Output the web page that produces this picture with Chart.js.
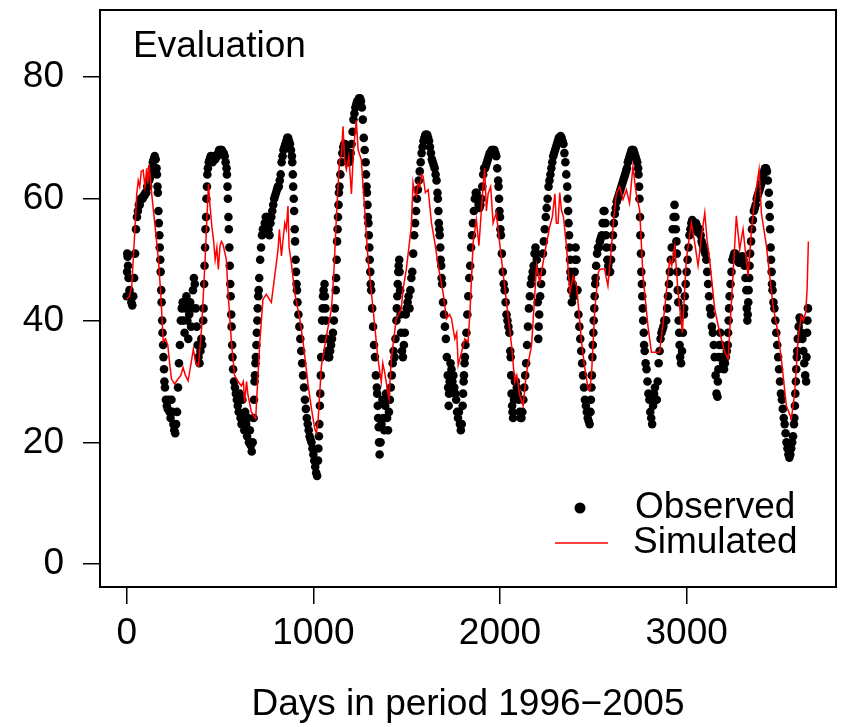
<!DOCTYPE html>
<html>
<head>
<meta charset="utf-8">
<script src="https://cdn.jsdelivr.net/npm/chart.js@4/dist/chart.umd.min.js"></script>
<style>
  html, body { margin: 0; padding: 0; background: #fff; }
  #wrap { width: 841px; height: 727px; }
</style>
</head>
<body>
<div id="wrap"><canvas id="c" width="841" height="727"></canvas></div>
<script>
const obsStep = 5;
const obsRows = [
  [44,50.5,47,45,44,43,42.5,44,47,51,55,57,58,59,59,60,60,60,60.5,60.5],
  [61,61,62,62,63,63.5,64,65,66,66.5,67,66.5,65,62,58,54,50,45,40,36],
  [32,29,27,26,25.5,27,25,24,27,25,23,22,21.5,23,25,29,33,36,40,42],
  [43,40,38,42,44,40,37,41,43,39,42,45,47,46,42,39,36,34,33,35],
  [37,36,40,46,52,57,62,65,66,66.5,67,66.5,66,66.5,67,66.5,67,67,67.5,68],
  [68,68,68,67.5,67.5,67,66,65,62,57,52,46,41,36,32,30,29,28,27,26],
  [25,28,24,23,27,24,22,25,23,21,24,20,22,19.5,18.5,20,24,30,33,36],
  [40,44,47,50,52,54,55,55,56,57,57,57,55,54,56,57,58,59,60,60.5],
  [61,61.5,62,62,63,64,66,67,68,68.5,69,69.5,70,70,69.5,69,68,67,64,60],
  [55,50,46,43,41,39,37,35,33,31,29,27,25.5,24,23,22,21,20.5,20,19],
  [18,17,16,15,14.5,17,21,26,31,37,42,45,46,42,37,35,34,34,35,36],
  [37,38,40,42,45,50,55,59,62,64,66,67.5,68.5,69,69,68.5,67.5,66.5,66,66.5],
  [67.5,69,71,73,74,75,75.5,76,76,76.5,76.5,76,75,73,70,68,66,62,59,56],
  [52,48,45,42,39,36,34,31,29,26,22.5,18,20,23,27,24,22,26,28,24],
  [22,25,27,29,31,33,35,34,37,40,44,48,50,45,38,35,34,36,38,41],
  [42,43,44,42,45,47,48,51,54,56,58,60,61.5,63,64.5,66,67.5,68.5,69.5,70],
  [70.5,70.5,70.5,70,69.5,68.5,67.5,66.5,66,65.5,65,64,63,61,58,55,52,49,46,43],
  [41,39,37,34,31,26,30,33,32,30,31,29,28,27,25,24,25,23,22,23],
  [26,30,33,36,38,41,44,47,49,52,54,56,58,60,61,61,60,59,58.5,59],
  [60,62,64,65,65,65.5,66,66.5,67,67.5,67.5,68,68,68,68,67.5,67,65,63,60],
  [57,54,51,48,46,45,43,41,40,39,38,35,31,26,24,27,30,30,29,28],
  [27,25,24,24,25,27,29,31,33,36,39,42,44,46,47,48,49,51,52,51],
  [48,37,41,44,46,48,51,53,55,57,58.5,60,62,63,64,65,66,67,67.5,68],
  [68.5,69,69.5,70,70,70.3,70,69.5,69,67.5,66,64,62,58,54,50,47,43,46,44],
  [48,52,50,45,41,39,37,35,33,31,29,27,26,25,24,23.5,23,25,29,34],
  [38,42,46,49,51,52,52,53,53.5,54,56,58,58,56,52,50,49,48,48,50],
  [52,54,56,57.5,58.5,59.5,60,60.5,61,61.5,62,62.5,63,63.5,64,64.5,65,66,66.5,67],
  [67.5,68,68,68,67.5,67,66.5,66,65,62,57,51,46,42,38,35,33,32,30,28],
  [27,25,24,23,26,28,29,27,27,30,33,35,37,38,38.5,39,40,40,40,42],
  [44,46,48,50,52,55,57,59,57,53,48,43,38,34,33,35,38,41,44,46],
  [48,50,52,54,55,56,56.5,56,55.5,55,56,55.5,54.5,55,55,54,53,52.5,52,51.5],
  [51,50,48,46,44,42,41,39,38,36,34,31,28,27.5,32,36,38,36,34,33],
  [32,33,34,35,36,40,44,46,48,50,50.5,51,51,50.5,50,50,49.5,50,50,50.5],
  [50.5,50,49,47,45,40,43,47,51,53,55,56.5,58,58.5,59,60,60.5,61,61.5,62],
  [62.5,63.5,64,64.5,65,65,64.5,63,61,57,52,48,45,43,42,40,38,36,34,32],
  [30,28,27,25.5,24,23,21.5,20,19,18,17.5,18,19,20,21,23,26,30,34,37],
  [39,40.5,40,38,37,35,33,31,30,38,42]
];

// extra observed days read on the steep rises and falls: [day, value]
const obsSteep = [
  [2,48],[3,51],[7,49],
  [162,64],[167,61],[172,56],[177,52],[182,48],[187,43],[192,38],[197,34],[202,30],
  [412,42],[417,49],[422,55],[427,60],[432,64],
  [537,64],[542,60],[547,55],[552,49],[557,44],[562,39],[567,34],
  [682,27],[687,31],[692,34],[697,38],[702,42],[707,45],
  [887,66],[892,62],[897,58],[902,53],[907,48],[912,45],
  [1027,19],[1032,23],[1037,28],[1042,34],[1047,40],[1052,44],[1062,44],[1067,40],
  [1122,47],[1127,53],[1132,57],[1137,61],
  [1282,64],[1287,61],[1292,57],[1297,54],[1302,50],[1307,46],
  [1342,28],[1347,24],[1352,20],
  [1447,42],[1452,46],[1457,49],[1462,48],[1467,41],
  [1667,60],[1672,56],[1677,54],[1682,50],[1687,47],
  [1722,29],[1727,28],[1802,28],[1807,31],[1812,34],
  [1992,62],[1997,58],[2002,55],[2057,34],[2062,28],[2067,25],
  [2197,50],[2202,43],[2207,39],
  [2362,60],[2367,56],[2372,52],[2377,48],[2382,45],[2402,50],
  [2487,27],[2492,31],[2497,36],[2502,40],[2507,44],[2512,47],[2567,54],
  [2742,64],[2747,60],[2752,54],[2757,48],[2762,44],[2767,40],[2772,36],
  [2942,55],[2947,51],[2952,45],[2957,40],[2962,36],[2987,42],
  [3167,30],[3172,34],[3222,38],[3227,42],
  [3322,42],[3327,41],[3332,45],[3337,49],
  [3442,59],[3447,55],[3452,50],[3457,46],
  [3577,24],[3582,28],[3587,32],[3592,35],[3642,34],[3647,40]
];

// Simulated values: [day, value]
const simulated = [
  [0,43.5],[15,44],[27,45.7],[35,50],[45,55.5],[54,60.8],[62,63],[70,62],[78,64.5],[88,64.7],[98,62],[107,65],[114,62.5],[120,65.6],[134,60.8],[152,55.5],[170,50],[182,44.6],[196,36.5],[208,37],[220,36],[230,33],[240,30.4],[257,29.6],[275,30.4],[290,31],[302,32.3],[315,31],[329,30.1],[345,33],[357,35.3],[370,33],[384,32.5],[402,39],
  [420,50],[430,57],[438,62.4],[446,59],[456,55.5],[466,53],[474,50],[483,52],[491,48.4],[500,52.3],[508,53],[516,52.5],[534,50],[543,44.6],[561,36.5],[578,31],[596,30],[614,29.3],[625,30],[632,26.6],[642,30],[650,27.7],[668,25],[691,23.9],[713,36.5],[730,43.5],[748,44.3],[775,43],[793,47.3],[811,51.7],[818,55],[829,50.6],[840,54],[847,56],[855,55],[864,58.8],[870,52],[882,49.5],[900,44.6],[927,40.3],[945,36.5],[972,29.4],[990,25.5],[1007,22.3],[1016,21.5],[1025,23.4],
  [1043,32.5],[1070,37.5],[1097,41.9],[1110,48],[1123,56.6],[1132,62],[1141,66.4],[1150,67],[1159,71.9],[1168,66],[1177,64.8],[1190,67],[1204,60.8],[1215,68],[1230,72.9],[1240,68],[1257,66.4],[1275,58.2],[1293,50],[1320,41.9],[1346,33.7],[1364,29.9],[1372,33],[1382,31.5],[1395,29],[1405,27.2],[1418,33.7],[1444,40.3],[1471,41.9],[1480,45],[1498,48.4],[1525,55.5],[1534,62.6],[1543,61],[1552,60.4],[1561,62.5],[1570,62],[1580,64],[1588,63.7],[1600,61],[1615,61.5],[1633,56],[1651,52.8],[1669,49],[1695,44.6],[1713,40.3],[1730,41],[1740,40.3],[1758,37],[1768,38],[1776,32.7],[1794,34.8],[1811,37],[1829,36.5],
  [1840,42],[1856,52.8],[1873,56.6],[1887,52.3],[1900,58],[1909,62],[1918,65],[1927,58],[1936,60.8],[1950,62],[1963,56],[1980,57.7],[2008,50],[2035,43],[2062,35.9],[2079,29.9],[2090,31],[2106,27.7],[2124,26],[2140,31],[2151,33.1],[2169,35.9],[2196,49],[2213,46.3],[2240,51.2],[2267,55.5],[2280,57],[2294,60.8],[2302,56],[2311,56],[2320,61],[2329,58.2],[2340,57],[2356,52.3],[2374,44.6],[2392,47.3],[2410,45.7],[2437,36.5],[2454,32.2],[2472,28.9],[2480,28.5],[2490,31],[2508,41.9],[2526,47.8],
  [2533,48.4],[2560,48.5],[2578,45.7],[2596,51.7],[2610,57],[2623,60.8],[2641,62],[2659,59.9],[2677,61.5],[2694,59.3],[2712,65.3],[2730,60.8],[2748,58.2],[2766,47.3],[2793,39],[2811,34.8],[2837,34.8],[2855,34.8],[2882,41.9],[2909,50],[2920,49],[2936,52.3],[2954,44.6],[2977,38],[2998,50],[3025,56],[3043,52.8],[3061,49],[3080,54],[3097,57.7],[3110,53],[3123,50],[3150,41.9],[3177,38],[3204,34.8],[3222,33.7],[3248,47.3],[3266,57.2],[3284,51.7],[3302,55],[3329,47.3],[3346,54.4],[3364,59.9],[3388,64.8],[3400,57.7],[3427,52.3],[3445,47.3],[3463,42.4],[3489,38],[3507,33.7],[3534,26],[3561,23.9],[3579,28.2],[3597,37],[3614,40.8],[3625,40],[3638,41.4],[3645,45],[3652,53]
];

const xTicks = [0, 1000, 2000, 3000];
const yTicks = [0, 20, 40, 60, 80];
const seriesNames = ['Observed', 'Simulated'];
const panelLabel = 'Evaluation';
const xTitle = 'Days in period 1996\u22122005';

const FONT = '"Liberation Sans", Arial, Helvetica, sans-serif';

const obsPoints = [];
obsRows.forEach((row, r) => row.forEach((v, j) => obsPoints.push({ x: r * 100 + j * obsStep, y: v })));
obsSteep.forEach(p => obsPoints.push({ x: p[0], y: p[1] }));

// box round the plot, panel label and legend inside the plot
const boxPlugin = {
  id: 'boxAndLegend',
  afterDraw(chart) {
    const { ctx, chartArea: a } = chart;
    ctx.save();
    ctx.strokeStyle = '#000';
    ctx.lineWidth = 2;
    ctx.strokeRect(a.left, a.top, a.right - a.left, a.bottom - a.top);

    ctx.fillStyle = '#000';
    ctx.font = '37px ' + FONT;
    ctx.textBaseline = 'middle';
    ctx.textAlign = 'left';
    ctx.fillText(panelLabel, a.left + 33, a.top + 37);

    // legend
    ctx.beginPath();
    ctx.arc(a.right - 256, a.bottom - 79, 5.5, 0, Math.PI * 2);
    ctx.fill();
    ctx.fillText(seriesNames[0], a.right - 201, a.bottom - 79);
    ctx.strokeStyle = '#ff0000';
    ctx.lineWidth = 1.5;
    ctx.beginPath();
    ctx.moveTo(a.right - 281, a.bottom - 44);
    ctx.lineTo(a.right - 228, a.bottom - 44);
    ctx.stroke();
    ctx.fillText(seriesNames[1], a.right - 203, a.bottom - 44);
    ctx.restore();
  }
};

new Chart(document.getElementById('c'), {
  type: 'scatter',
  data: {
    datasets: [
      {
        label: seriesNames[1],
        type: 'line',
        data: simulated.map(p => ({ x: p[0], y: p[1] })),
        borderColor: '#ff0000',
        borderWidth: 1.5,
        pointRadius: 0,
        tension: 0,
        fill: false,
        order: 0
      },
      {
        label: seriesNames[0],
        data: obsPoints,
        backgroundColor: '#000',
        borderWidth: 0,
        pointRadius: 4.3,
        showLine: false,
        order: 1
      }
    ]
  },
  options: {
    responsive: false,
    animation: false,
    layout: { padding: { top: 10, right: 5, left: 0, bottom: 0 } },
    plugins: { legend: { display: false }, tooltip: { enabled: false } },
    scales: {
      x: {
        type: 'linear',
        min: -143,
        max: 3800,
        afterBuildTicks: s => { s.ticks = xTicks.map(v => ({ value: v })); },
        afterFit: s => { s.height = 140; s.paddingLeft = 0; s.paddingRight = 0; },
        grid: { drawOnChartArea: false, drawTicks: true, tickLength: 17, color: '#000', lineWidth: 1.5 },
        border: { display: false },
        ticks: { color: '#000', font: { family: FONT, size: 37 }, padding: 8, maxRotation: 0, callback: v => String(v) },
        title: { display: true, text: xTitle, color: '#000', font: { family: FONT, size: 37 }, padding: { top: 0, bottom: 0 } }
      },
      y: {
        type: 'linear',
        min: -3.75,
        max: 91,
        afterBuildTicks: s => { s.ticks = yTicks.map(v => ({ value: v })); },
        afterFit: s => { s.width = 100; s.paddingTop = 0; s.paddingBottom = 0; },
        grid: { drawOnChartArea: false, drawTicks: true, tickLength: 17, color: '#000', lineWidth: 1.5 },
        border: { display: false },
        ticks: { color: '#000', font: { family: FONT, size: 37 }, padding: 19, callback: v => String(v) }
      }
    }
  },
  plugins: [boxPlugin]
});
</script>
</body>
</html>
